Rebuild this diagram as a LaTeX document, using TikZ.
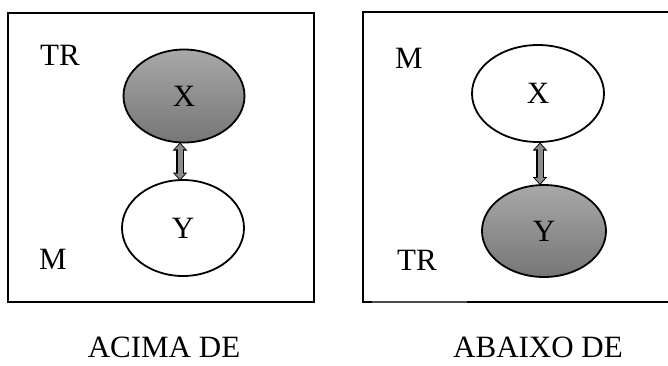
\documentclass[tikz,border=0pt]{standalone}
\usepackage{fontspec}
\setmainfont{Liberation Serif}
\usetikzlibrary{arrows.meta,shapes.geometric}
\definecolor{shadetop}{RGB}{168,168,168}
\definecolor{shadebot}{RGB}{118,118,118}
\definecolor{arrowgray}{RGB}{140,140,140}
\begin{document}
\begin{tikzpicture}[x=1pt,y=-1pt,
  frame/.style={line width=2.6pt},
  txt/.style={font=\fontsize{31}{34}\selectfont, inner sep=0pt},
  bubble/.style={ellipse, draw=black, line width=1.8pt, inner sep=0pt, font=\fontsize{31}{34}\selectfont},
  filledbubble/.style={bubble, top color=shadetop, bottom color=shadebot},
  whitebubble/.style={bubble, fill=white},
  outerarrow/.style={line width=7.5pt, black, {Triangle[width=14pt,length=8pt]}-{Triangle[width=14pt,length=8pt]}},
  innerarrow/.style={line width=5pt, arrowgray, shorten <=1.4pt, shorten >=1.4pt, {Triangle[width=10pt,length=5.5pt]}-{Triangle[width=10pt,length=5.5pt]}}
]
\useasboundingbox (0,0) rectangle (668,365);
\fill[white] (0,0) rectangle (668,365);

% left panel
\draw[frame] (8,13) rectangle (314,302);
\node[filledbubble, minimum width=121pt, minimum height=93pt] (lx) at (184,96) {X};
\node[whitebubble, minimum width=122pt, minimum height=96pt] (ly) at (183,228) {Y};
\node[txt] (ltr) at (60,55) {TR};
\node[txt] (lm) at (53,259) {M};
\coordinate (la) at (180,142.5);
\coordinate (lb) at (180,180.5);
\draw[outerarrow] (la) -- (lb);
\draw[innerarrow] (la) -- (lb);
\node[txt] (cap1) at (164,347) {ACIMA DE};

% right panel
\draw[frame] (668,12) -- (363,12) -- (363,302) -- (372,302);
\draw[line width=1.2pt, black!70] (372,302) -- (467,302);
\draw[frame] (467,302) -- (668,302);
\node[whitebubble, minimum width=132pt, minimum height=97pt] (rx) at (538,93.5) {X};
\node[filledbubble, minimum width=124pt, minimum height=92pt] (ry) at (544,231) {Y};
\node[txt] (rm) at (409,58) {M};
\node[txt] (rtr) at (417,260) {TR};
\coordinate (ra) at (540,142.5);
\coordinate (rb) at (540,185);
\draw[outerarrow] (ra) -- (rb);
\draw[innerarrow] (ra) -- (rb);
\node[txt] (cap2) at (538,347) {ABAIXO DE};
\end{tikzpicture}
\end{document}
